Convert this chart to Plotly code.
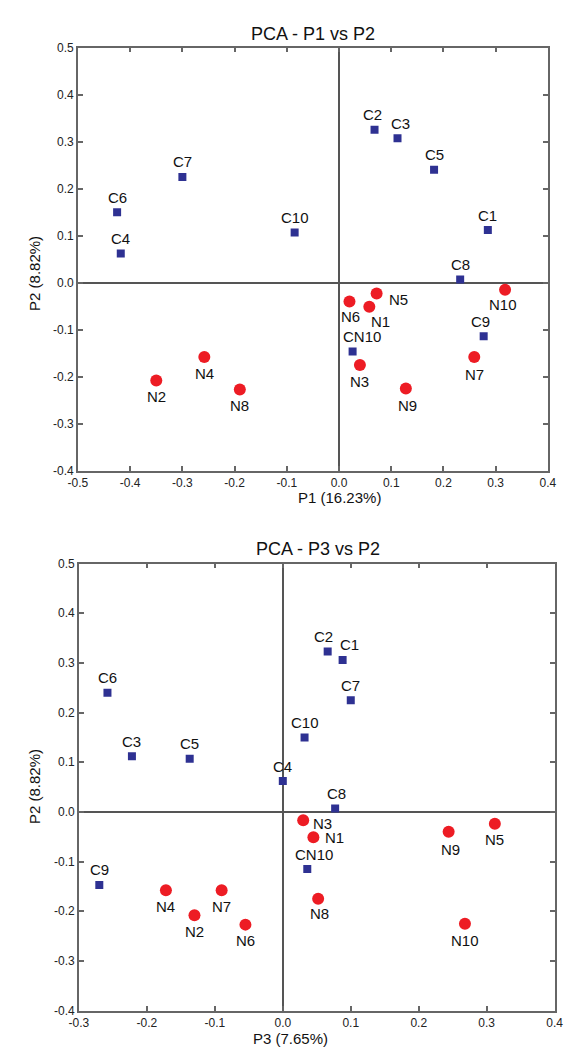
import plotly.graph_objects as go

# ---------------- data: top plot (P1 vs P2) ----------------
top_c_labels = ["C1", "C2", "C3", "C4", "C5", "C6", "C7", "C8", "C9", "C10", "CN10"]
top_c_p1 = [0.285, 0.068, 0.112, -0.418, 0.182, -0.425, -0.300, 0.232, 0.277, -0.085, 0.026]
top_c_p2 = [0.112, 0.325, 0.307, 0.062, 0.240, 0.150, 0.225, 0.007, -0.114, 0.107, -0.146]

top_n_labels = ["N1", "N2", "N3", "N4", "N5", "N6", "N7", "N8", "N9", "N10"]
top_n_p1 = [0.058, -0.350, 0.040, -0.258, 0.072, 0.020, 0.259, -0.190, 0.128, 0.318]
top_n_p2 = [-0.051, -0.208, -0.175, -0.158, -0.023, -0.040, -0.158, -0.227, -0.225, -0.015]

# ---------------- data: bottom plot (P3 vs P2) ----------------
bot_c_labels = ["C1", "C2", "C3", "C4", "C5", "C6", "C7", "C8", "C9", "C10", "CN10"]
bot_c_p3 = [0.088, 0.066, -0.222, 0.000, -0.137, -0.258, 0.100, 0.077, -0.270, 0.032, 0.036]
bot_c_p2 = [0.306, 0.323, 0.112, 0.062, 0.107, 0.240, 0.225, 0.007, -0.147, 0.150, -0.115]

bot_n_labels = ["N1", "N2", "N3", "N4", "N5", "N6", "N7", "N8", "N9", "N10"]
bot_n_p3 = [0.045, -0.130, 0.030, -0.172, 0.312, -0.055, -0.090, 0.052, 0.244, 0.268]
bot_n_p2 = [-0.051, -0.208, -0.017, -0.158, -0.024, -0.227, -0.158, -0.175, -0.040, -0.225]

x1_ticks = [-0.5, -0.4, -0.3, -0.2, -0.1, 0.0, 0.1, 0.2, 0.3, 0.4]
x2_ticks = [-0.3, -0.2, -0.1, 0.0, 0.1, 0.2, 0.3, 0.4]
y_ticks = [-0.4, -0.3, -0.2, -0.1, 0.0, 0.1, 0.2, 0.3, 0.4, 0.5]

# label offsets (px): (dx, dy) with dy positive = up
top_c_off = [(0, 15), (-2, 15), (3, 15), (0, 15), (0, 15), (0, 15), (0, 15), (0, 15), (-3, 15), (0, 15), (9, 15)]
top_n_off = [(11, -15), (0, -16), (0, -16), (0, -16), (22, -6), (1, -15), (0, -17), (0, -16), (2, -17), (-2, -15)]
bot_c_off = [(7, 15), (-4, 15), (0, 15), (0, 15), (0, 15), (0, 15), (0, 15), (1, 15), (0, 15), (0, 15), (7, 15)]
bot_n_off = [(21, 0), (0, -16), (19, -3), (0, -16), (0, -16), (0, -16), (0, -16), (1, -15), (2, -18), (0, -17)]

W, H = 575, 1050
BLUE = "#2E3192"
RED = "#ED1C24"
FONT = "Liberation Sans, Arial, sans-serif"

# plot areas in pixels
top_box = (62, 548, 33, 462)     # left, right, top, bottom
bot_box = (63, 555, 556, 1009)


def dom(box):
    l, r, t, b = box
    return [l / W, r / W], [1 - b / H, 1 - t / H]


fig = go.Figure()

fig.add_trace(go.Scatter(x=top_c_p1, y=top_c_p2, mode="markers", xaxis="x", yaxis="y",
                         marker=dict(symbol="square", size=8, color=BLUE), hoverinfo="text",
                         text=top_c_labels))
fig.add_trace(go.Scatter(x=top_n_p1, y=top_n_p2, mode="markers", xaxis="x", yaxis="y",
                         marker=dict(symbol="circle", size=12, color=RED), hoverinfo="text",
                         text=top_n_labels))
fig.add_trace(go.Scatter(x=bot_c_p3, y=bot_c_p2, mode="markers", xaxis="x2", yaxis="y2",
                         marker=dict(symbol="square", size=8, color=BLUE), hoverinfo="text",
                         text=bot_c_labels))
fig.add_trace(go.Scatter(x=bot_n_p3, y=bot_n_p2, mode="markers", xaxis="x2", yaxis="y2",
                         marker=dict(symbol="circle", size=12, color=RED), hoverinfo="text",
                         text=bot_n_labels))

annotations = []


def add_labels(labels, xs, ys, offs, xref, yref):
    for lab, x, y, (dx, dy) in zip(labels, xs, ys, offs):
        annotations.append(dict(x=x, y=y, xref=xref, yref=yref, text=lab, showarrow=False,
                                xshift=dx, yshift=dy, font=dict(family=FONT, size=15, color="#111")))


add_labels(top_c_labels, top_c_p1, top_c_p2, top_c_off, "x", "y")
add_labels(top_n_labels, top_n_p1, top_n_p2, top_n_off, "x", "y")
add_labels(bot_c_labels, bot_c_p3, bot_c_p2, bot_c_off, "x2", "y2")
add_labels(bot_n_labels, bot_n_p3, bot_n_p2, bot_n_off, "x2", "y2")


def px(xp, yp):
    return xp / W, 1 - yp / H


for text, (xp, yp), size, angle in [
    ("PCA - P1 vs P2", (305, 19), 18, 0),
    ("PCA - P3 vs P2", (310, 541), 18, 0),
    ("P1 (16.23%)", (332, 489), 15, 0),
    ("P3 (7.65%)", (282, 1037), 15, 0),
    ("P2 (8.82%)", (17, 262), 15, -90),
    ("P2 (8.82%)", (17, 782), 15, -90),
]:
    xx, yy = px(xp, yp)
    annotations.append(dict(x=xx, y=yy, xref="paper", yref="paper", text=text, showarrow=False,
                            textangle=angle, xanchor="center", yanchor="middle",
                            font=dict(family=FONT, size=size, color="#111")))

axis_common = dict(showline=True, linecolor="#666", linewidth=1.5, mirror="ticks",
                   ticks="inside", ticklen=5, tickwidth=1.5, tickcolor="#666",
                   showgrid=False, zeroline=True, zerolinecolor="#555", zerolinewidth=1.5,
                   tickfont=dict(family=FONT, size=12, color="#222"), fixedrange=True)

xd1, yd1 = dom(top_box)
xd2, yd2 = dom(bot_box)

fig.update_layout(
    width=W, height=H, margin=dict(l=0, r=0, t=0, b=0),
    paper_bgcolor="white", plot_bgcolor="white", showlegend=False,
    xaxis=dict(domain=xd1, range=[-0.5, 0.4], anchor="y", tickvals=x1_ticks,
               ticktext=[f"{v:.1f}" for v in x1_ticks], **axis_common),
    yaxis=dict(domain=yd1, range=[-0.4, 0.5], anchor="x", tickvals=y_ticks,
               ticktext=[f"{v:.1f}" for v in y_ticks], **axis_common),
    xaxis2=dict(domain=xd2, range=[-0.3, 0.4], anchor="y2", tickvals=x2_ticks,
                ticktext=[f"{v:.1f}" for v in x2_ticks], **axis_common),
    yaxis2=dict(domain=yd2, range=[-0.4, 0.5], anchor="x2", tickvals=y_ticks,
                ticktext=[f"{v:.1f}" for v in y_ticks], **axis_common),
    annotations=annotations,
)

fig.write_html("out.html")
